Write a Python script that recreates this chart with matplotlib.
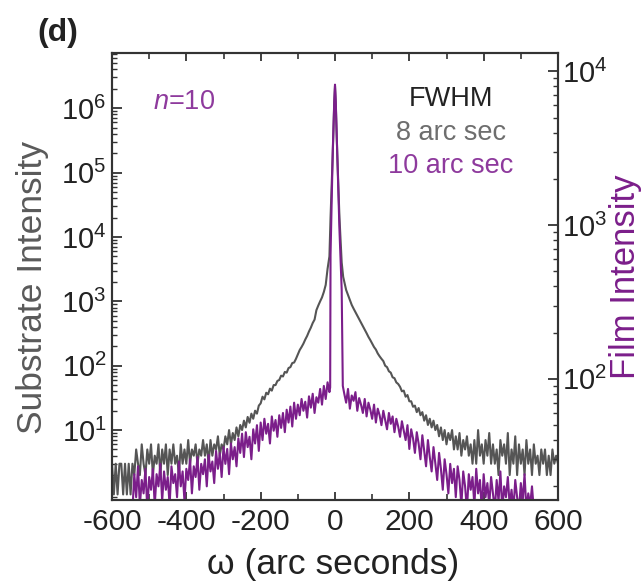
import numpy as np
import matplotlib
matplotlib.use("Agg")
import matplotlib.pyplot as plt
from matplotlib.ticker import LogLocator, NullFormatter, MultipleLocator

plt.rcParams['font.family'] = ['Liberation Sans', 'DejaVu Sans']
plt.rcParams['mathtext.fontset'] = 'custom'
plt.rcParams['mathtext.rm'] = 'Liberation Sans'
plt.rcParams['mathtext.it'] = 'Liberation Sans:italic'
plt.rcParams['axes.unicode_minus'] = False

# substrate (gray, left axis) -- omega grids in arc sec
sub_left_w = np.arange(-600, -24, 5)
sub_left_i = [3, 1, 3, 1, 3, 3, 1, 3, 1, 3,
              1, 3, 2, 5, 3, 2, 6, 3, 2, 5,
              3, 6, 2, 4, 3, 6, 2, 5, 3, 6,
              2, 5, 3, 6, 3, 4, 2, 6, 3, 5,
              3, 7, 3, 5, 4, 6, 3, 5, 4, 7,
              4, 6, 3, 7, 4, 6, 5, 8, 4, 6,
              5, 8, 6, 10, 6, 9, 7, 11, 8, 12,
              10, 14, 11, 16, 13, 18, 15, 20, 18, 24,
              26, 33, 30, 38, 36, 44, 41, 50, 50, 58,
              60, 70, 68, 80, 78, 92, 95, 110, 112, 128,
              150, 175, 195, 220, 255, 290, 340, 390, 460, 520,
              730, 860, 1000, 1150, 1400, 1800]
sub_peak_w = [-20, -15, -12, -6, -2, 0, 2, 6, 12, 18, 22]
sub_peak_i = [3200, 5000, 2e4, 2e5, 1.2e6, 2.2e6, 1.2e6, 2e5, 2e4, 4000, 2400]
sub_right_w = np.arange(25, 601, 5)
sub_right_i = [2000, 1500, 1250, 1050, 880, 770, 680, 600, 530, 470,
               415, 365, 320, 280, 250, 220, 195, 178, 155, 140,
               128, 118, 100, 95, 82, 78, 66, 64, 55, 52,
               47, 40, 41, 33, 35, 28, 28, 23, 24, 19,
               22, 17, 19, 14, 17, 12, 15, 11, 14, 10,
               12, 8, 11, 7, 10, 6, 9, 7, 10, 5,
               8, 5, 9, 4, 7, 5, 8, 4, 6, 3,
               7, 3, 10, 4, 6, 3, 7, 4, 9, 3,
               6, 3, 5, 2, 7, 4, 6, 3, 9, 2,
               5, 3, 8, 2, 6, 3, 5, 2, 7, 3,
               5, 2, 6, 3, 4, 2, 5, 3, 5, 2,
               4, 2, 5, 3, 4, 3]

# film (purple, right axis)
film_left_w = np.arange(-545, -14, 5)
film_left_i = [14, 24, 17, 27, 15, 22, 18, 26, 14, 23,
               19, 26, 15, 24, 20, 28, 16, 25, 19, 23,
               15, 27, 21, 24, 17, 29, 20, 25, 16, 26,
               22, 30, 18, 27, 23, 31, 19, 28, 24, 30,
               20, 32, 25, 29, 21, 34, 26, 33, 23, 36,
               28, 35, 24, 38, 30, 36, 27, 41, 33, 44,
               31, 45, 36, 42, 30, 47, 38, 50, 34, 52,
               40, 55, 44, 51, 38, 57, 46, 54, 42, 58,
               48, 60, 45, 63, 52, 66, 49, 70, 55, 68,
               58, 74, 62, 71, 56, 77, 65, 80, 60, 76,
               70, 86, 68, 90, 74, 95, 82]
film_peak_w = [-13, -12, -6, -2, 0, 2, 6, 12, 18, 21]
film_peak_i = [88, 640, 3060, 6400, 8200, 6400, 3000, 930, 380, 90]
film_right_w = np.arange(25, 536, 5)
film_right_i = [80, 70, 86, 64, 78, 72, 82, 62, 75, 68,
                60, 74, 57, 70, 63, 55, 68, 52, 64, 58,
                50, 62, 54, 47, 60, 51, 57, 45, 55, 49,
                42, 53, 46, 40, 50, 35, 47, 41, 33, 45,
                38, 30, 43, 34, 27, 40, 31, 25, 36, 28,
                22, 33, 26, 19, 30, 24, 18, 28, 21, 26,
                17, 27, 22, 15, 25, 20, 14, 24, 19, 23,
                15, 26, 18, 22, 14, 24, 17, 21, 15, 23,
                18, 14, 22, 16, 25, 14, 20, 17, 23, 15,
                19, 14, 22, 17, 14, 21, 16, 24, 14, 18,
                15, 20, 14]

sub_w = np.concatenate([sub_left_w, sub_peak_w, sub_right_w])
sub_i = np.concatenate([sub_left_i, sub_peak_i, sub_right_i])
film_w = np.concatenate([film_left_w, film_peak_w, film_right_w])
film_i = np.concatenate([film_left_i, film_peak_i, film_right_i])

gray = '#555555'
purple = '#7b1e8a'
purple_txt = '#8e3a9d'
spine = '#333333'

fig = plt.figure(figsize=(6.41, 5.83), dpi=100)
ax = fig.add_axes([112 / 641, 83 / 583, 446 / 641, 447 / 583])
ax2 = ax.twinx()

ax.plot(sub_w, sub_i, color=gray, lw=1.5)
ax2.plot(film_w, film_i, color=purple, lw=1.5)

ax.set_xlim(-600, 600)
ax.set_yscale('log')
ax.set_ylim(0.82, 7.2e6)
ax2.set_yscale('log')
ax2.set_ylim(16.3, 1.317e4)

ax.set_xticks([-600, -400, -200, 0, 200, 400, 600])
ax.xaxis.set_minor_locator(MultipleLocator(100))
ax.set_yticks([1e1, 1e2, 1e3, 1e4, 1e5, 1e6])
ax.yaxis.set_minor_locator(LogLocator(base=10, subs=np.arange(2, 10), numticks=20))
ax.yaxis.set_minor_formatter(NullFormatter())
ax2.set_yticks([1e2, 1e3, 1e4])
ax2.yaxis.set_minor_locator(LogLocator(base=10, subs=np.arange(2, 10), numticks=20))
ax2.yaxis.set_minor_formatter(NullFormatter())

ax.tick_params(axis='x', which='both', direction='in', top=True, labelsize=21.5,
               pad=6, color=spine, labelcolor='#222222')
ax.tick_params(axis='x', which='major', length=6, width=1.3)
ax.tick_params(axis='x', which='minor', length=4, width=1.2)
ax.tick_params(axis='y', which='both', direction='in', right=False, labelsize=21,
               pad=4, color=spine, labelcolor='#222222')
ax.tick_params(axis='y', which='major', length=7, width=1.3)
ax.tick_params(axis='y', which='minor', length=3.5, width=1.0)
ax2.tick_params(axis='y', which='both', direction='in', labelsize=21, pad=3,
                color=spine, labelcolor='#222222')
ax2.tick_params(axis='y', which='major', length=7, width=1.3)
ax2.tick_params(axis='y', which='minor', length=3.5, width=1.0)

for a in (ax, ax2):
    for s in a.spines.values():
        s.set_linewidth(1.5)
        s.set_color(spine)

fig.text(333 / 641, 1 - 574 / 583, '\u03c9 (arc seconds)', fontsize=25.5,
         color='#222222', ha='center', va='baseline')
fig.text(33 / 641, 1 - 287 / 583, 'Substrate Intensity', fontsize=25.5,
         color='#5a5a5a', rotation=90, ha='center', va='center')
fig.text(625 / 641, 1 - 277 / 583, 'Film Intensity', fontsize=25,
         color=purple, rotation=90, ha='center', va='center')

fig.text(37 / 641, 1 - 33 / 583, '(d)', fontsize=23, fontweight='bold',
         va='center', ha='left', color='#222222')
ax.text(0.092, 0.89, r'$n$=10', transform=ax.transAxes, fontsize=19.5,
        color=purple_txt, ha='left', va='center')
ax.text(0.76, 0.898, 'FWHM', transform=ax.transAxes, fontsize=19.5,
        color='#222222', ha='center', va='center')
ax.text(0.76, 0.82, '8 arc sec', transform=ax.transAxes, fontsize=19.5,
        color='#6e6e6e', ha='center', va='center')
ax.text(0.76, 0.748, '10 arc sec', transform=ax.transAxes, fontsize=19.5,
        color=purple_txt, ha='center', va='center')

fig.savefig('out.png', dpi=100)
